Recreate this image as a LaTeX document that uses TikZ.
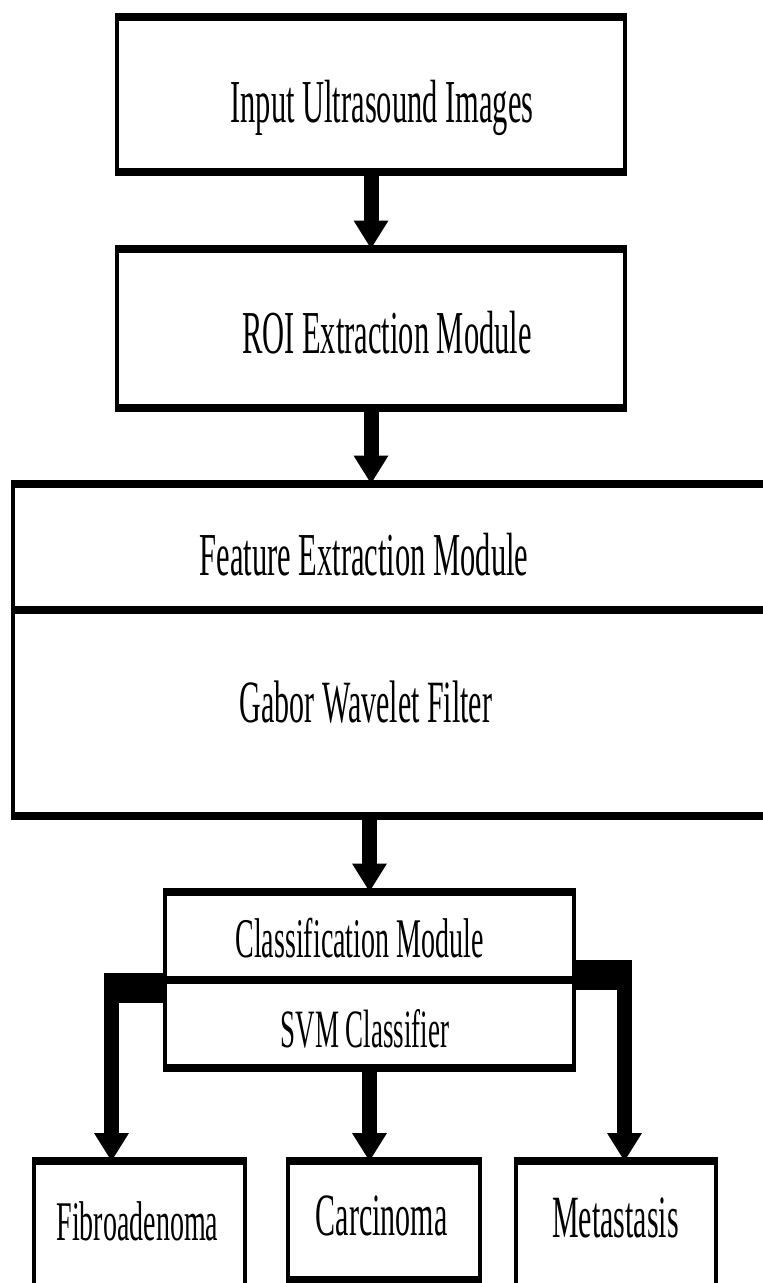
\documentclass[tikz,border=0pt]{standalone}
\usepackage{fontspec}
\setmainfont{Liberation Serif}
\usetikzlibrary{arrows.meta}

\tikzset{
  box/.style={draw,line width=8pt,inner sep=0pt,outer sep=0pt},
  lab/.style={inner sep=0pt,text height=0pt,text depth=0pt,font=\fontsize{61}{70}\selectfont},
  flow/.style={line width=30pt,line join=miter,-{Triangle[length=28pt,width=70pt,line width=0pt]}}
}

\begin{document}
\begin{tikzpicture}[x=1pt,y=-1pt]
  \useasboundingbox (0,0) rectangle (763,1283);

  % everything is laid out twice as wide and squeezed back
  \begin{scope}[transform canvas={xscale=0.5}]

  \node [box,minimum width=1016pt,minimum height=155pt,
         label={[lab,xshift=22pt,yshift=-27.5pt]center:Input Ultrasound Images}] (input) at (742,94.5) {};
  \node [box,minimum width=1016pt,minimum height=159.5pt,
         label={[lab,xshift=32pt,yshift=-24.75pt]center:ROI Extraction Module}] (roi) at (742,328.25) {};

  \node [box,minimum width=1574pt,minimum height=126.5pt,
         label={[lab,xshift=-85pt,yshift=-28.25pt]center:Feature Extraction Module}] (feat) at (813,546.75) {};
  \node [box,minimum width=1574pt,minimum height=206pt,
         label={[lab,font=\fontsize{60}{70}\selectfont,xshift=-81pt,yshift=-9pt]center:Gabor Wavelet Filter}] (gabor) at (813,713) {};

  \node [box,minimum width=818pt,minimum height=88.5pt,
         label={[lab,font=\fontsize{56}{64}\selectfont,xshift=-20pt,yshift=-21.25pt]center:Classification Module}] (cls) at (739,935.75) {};
  \node [box,minimum width=818pt,minimum height=88pt,
         label={[lab,font=\fontsize{54}{62}\selectfont,xshift=-9pt,yshift=-23pt]center:SVM Classifier}] (svm) at (739,1024) {};

  \node [box,minimum width=423pt,minimum height=139pt,
         label={[lab,font=\fontsize{56}{64}\selectfont,xshift=-3.5pt,yshift=-9.5pt]center:Fibroadenoma}] (fibro) at (278.5,1230.5) {};
  \node [box,minimum width=384pt,minimum height=119pt,
         label={[lab,font=\fontsize{60}{70}\selectfont,xshift=-5pt,yshift=-14.5pt]center:Carcinoma}] (carc) at (768,1220.5) {};
  \node [box,minimum width=400pt,minimum height=139pt,
         label={[lab,font=\fontsize{60}{70}\selectfont,xshift=-1pt,yshift=-6.5pt]center:Metastasis}] (meta) at (1232,1230.5) {};

  \draw [flow] (input.south) -- (roi.north);
  \draw [flow] (roi.south) -- (roi.south |- feat.north);
  \draw [flow] (cls.north |- gabor.south) -- (cls.north);

  % three outputs of the classifier
  \draw [flow] (svm.south) -- (svm.south |- carc.north);
  \draw [flow] ([yshift=-7.5pt]svm.north west) -| ([xshift=-55.5pt]fibro.north);
  \draw [flow] ([yshift=5.5pt]svm.north east) -| ([xshift=17pt]meta.north);

  \end{scope}
\end{tikzpicture}
\end{document}
